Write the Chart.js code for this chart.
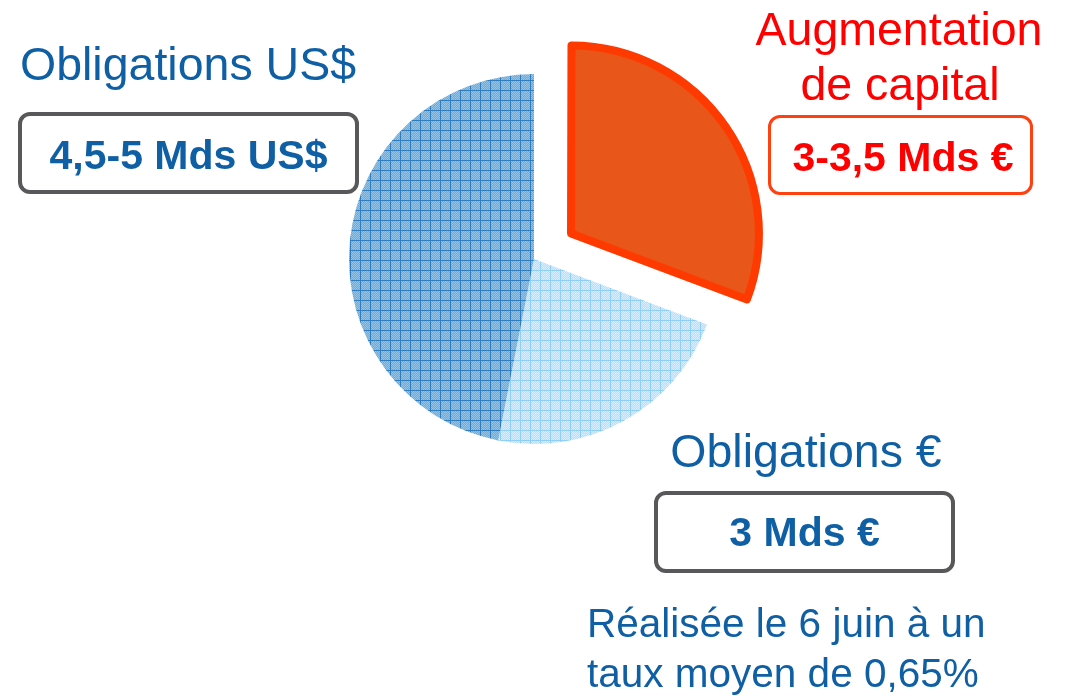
<!DOCTYPE html>
<html>
<head>
<meta charset="utf-8">
<script src="https://cdn.jsdelivr.net/npm/chart.js@4/dist/chart.umd.min.js"></script>
<style>
  html, body { margin:0; padding:0; background:#fff; }
  body { width:1065px; height:696px; position:relative; overflow:hidden; font-family:"Liberation Sans", Arial, sans-serif; }
  #wrap { position:absolute; left:0; top:0; width:1065px; height:696px; }
  .t { position:absolute; line-height:1; white-space:nowrap; }
  .blue { color:#0F5FA5; }
  .red { color:#FF0000; }
  .reg { font-size:46.5px; }
  .bold { font-size:41px; font-weight:bold; }
  .note { font-size:40.5px; }
  .box { position:absolute; box-sizing:border-box; border-radius:12px; background:transparent; }
</style>
</head>
<body>
<div id="wrap"><canvas id="c"></canvas></div>

<div class="box" style="left:18px;top:112px;width:341px;height:82px;border:4px solid #58585A;"></div>
<div class="box" style="left:768px;top:115px;width:265px;height:80px;border:3px solid #FF4010;"></div>
<div class="box" style="left:654px;top:491px;width:301px;height:82px;border:4px solid #58585A;"></div>

<div class="t blue reg" style="left:20px;top:40.6px;">Obligations US$</div>
<div class="t blue bold" style="left:-11.5px;width:400px;text-align:center;top:135.3px;">4,5-5 Mds US$</div>

<div class="t red reg" style="left:699px;width:400px;text-align:center;top:5.6px;">Augmentation</div>
<div class="t red reg" style="left:700px;width:400px;text-align:center;top:60.6px;">de capital</div>
<div class="t red bold" style="left:703px;width:400px;text-align:center;top:137.3px;">3-3,5 Mds €</div>

<div class="t blue reg" style="left:606px;width:400px;text-align:center;top:427.6px;">Obligations €</div>
<div class="t blue bold" style="left:604.5px;width:400px;text-align:center;top:512.3px;">3 Mds €</div>

<div class="t blue note" style="left:587px;top:602.7px;">Réalisée le 6 juin à un</div>
<div class="t blue note" style="left:587px;top:652.7px;">taux moyen de 0,65%</div>

<script>
const categories = ['Augmentation de capital', 'Obligations €', 'Obligations US$'];
const shares = [30.75, 22.35, 46.9];

function makePattern(c1, c2, line, size) {
  const cv = document.createElement('canvas');
  cv.width = size; cv.height = size;
  const x = cv.getContext('2d');
  for (let i = 0; i < size; i++) {
    for (let j = 0; j < size; j++) {
      x.fillStyle = ((i + j) % 2) ? c1 : c2;
      x.fillRect(i, j, 1, 1);
    }
  }
  x.fillStyle = line;
  x.fillRect(0, 0, size, 1);
  x.fillRect(0, 0, 1, size);
  return x.createPattern(cv, 'repeat');
}

const darkPat = makePattern('#72A9D5', '#95C3E6', '#2E7DC0', 10);
const lightPat = makePattern('#B6DEFF', '#D6EEFF', '#8ECFF8', 10);

new Chart(document.getElementById('c'), {
  type: 'pie',
  data: {
    labels: categories,
    datasets: [{
      data: shares,
      backgroundColor: ['#E8561A', lightPat, darkPat],
      borderColor: ['#FF3A00', 'rgba(0,0,0,0)', 'rgba(0,0,0,0)'],
      borderWidth: [8, 0, 0],
      borderJoinStyle: 'round',
      offset: [180, 0, 0],
      radius: 185
    }]
  },
  options: {
    responsive: true,
    maintainAspectRatio: false,
    animation: false,
    events: [],
    rotation: 0,
    layout: { padding: { left: 3, right: 0, top: 0, bottom: 178 } },
    plugins: { legend: { display: false }, tooltip: { enabled: false } }
  }
});
</script>
</body>
</html>
